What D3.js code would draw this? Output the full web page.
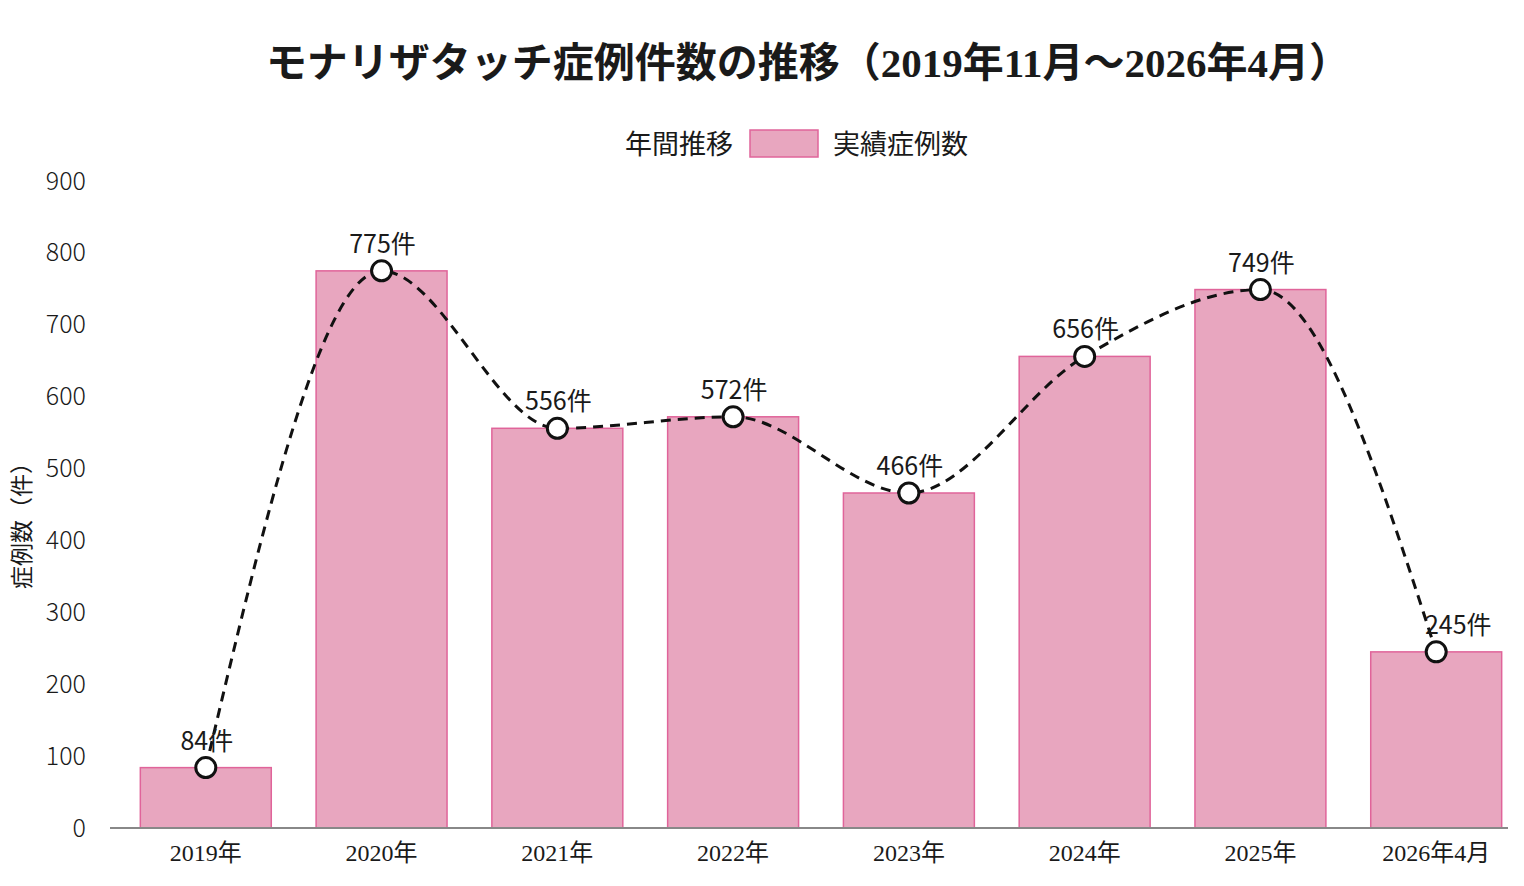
<!DOCTYPE html>
<html>
<head>
<meta charset="utf-8">
<script src="https://cdn.jsdelivr.net/npm/d3@7"></script>
<style>
  body { margin: 0; background: #fff; }
  text { fill: #1a1a1a; }
</style>
</head>
<body>
<div id="chart"></div>
<script>
// data
const categories = ['2019年', '2020年', '2021年', '2022年', '2023年', '2024年', '2025年', '2026年4月'];
const caseCounts = [84, 775, 556, 572, 466, 656, 749, 245];
const yTicks = [0, 100, 200, 300, 400, 500, 600, 700, 800, 900];

const W = 1524, H = 886;
const sans = '"Noto Sans CJK JP", "Noto Sans", sans-serif';
const serif = '"Liberation Serif", "Noto Sans CJK JP", serif';

const svg = d3.select('#chart')
  .append('svg')
  .attr('width', W)
  .attr('height', H);

// scales
const x = d3.scaleBand()
  .domain(categories)
  .range([118, 1524])
  .paddingInner(0.255)
  .paddingOuter(0.127);
const y = d3.scaleLinear()
  .domain([0, 900])
  .range([828, 181]);

// title
svg.append('text')
  .attr('x', 808)
  .attr('y', 77)
  .attr('text-anchor', 'middle')
  .style('font-family', serif)
  .style('font-weight', 'bold')
  .style('font-size', '41px')
  .text('モナリザタッチ症例件数の推移（2019年11月～2026年4月）');

// legend
const leg = svg.append('g');
leg.append('text')
  .attr('x', 733).attr('y', 154)
  .attr('text-anchor', 'end')
  .style('font-family', sans)
  .style('font-size', '27px')
  .text('年間推移');
leg.append('rect')
  .attr('x', 750).attr('y', 130)
  .attr('width', 68).attr('height', 27)
  .attr('fill', '#e8a6bf')
  .attr('stroke', '#e0649a')
  .attr('stroke-width', 1.5);
leg.append('text')
  .attr('x', 833).attr('y', 154)
  .style('font-family', sans)
  .style('font-size', '27px')
  .text('実績症例数');

// y axis (labels only)
const yAxis = svg.append('g')
  .attr('transform', 'translate(86,0)')
  .call(d3.axisLeft(y).tickValues(yTicks).tickSize(0).tickPadding(0));
yAxis.select('.domain').remove();
yAxis.selectAll('text')
  .style('font-family', sans)
  .style('font-size', '25px')
  .style('font-weight', '300')
  .attr('fill', '#1a1a1a');

svg.append('text')
  .attr('transform', 'translate(30,520) rotate(-90)')
  .attr('text-anchor', 'middle')
  .style('font-family', sans)
  .style('font-size', '23px')
  .text('症例数（件）');

// bars
svg.selectAll('rect.bar')
  .data(categories)
  .enter()
  .append('rect')
  .attr('class', 'bar')
  .attr('x', d => x(d))
  .attr('y', (d, i) => y(caseCounts[i]))
  .attr('width', x.bandwidth())
  .attr('height', (d, i) => y(0) - y(caseCounts[i]))
  .attr('fill', '#e8a6bf')
  .attr('stroke', '#e0649a')
  .attr('stroke-width', 1.5);

// x axis
const xAxis = svg.append('g')
  .attr('transform', 'translate(0,828)')
  .call(d3.axisBottom(x).tickSize(0).tickPadding(16));
xAxis.select('.domain')
  .attr('d', 'M110,0H1508')
  .attr('stroke', '#888')
  .attr('stroke-width', 2);
xAxis.selectAll('text')
  .style('font-family', serif)
  .style('font-size', '24px')
  .attr('fill', '#1a1a1a');

// trend line
const cx = d => x(d) + x.bandwidth() / 2;
const line = d3.line()
  .x(d => cx(d))
  .y((d, i) => y(caseCounts[i]))
  .curve(d3.curveMonotoneX);
svg.append('path')
  .datum(categories)
  .attr('d', line)
  .attr('fill', 'none')
  .attr('stroke', '#111')
  .attr('stroke-width', 3)
  .attr('stroke-dasharray', '10,7');

svg.selectAll('circle.pt')
  .data(categories)
  .enter()
  .append('circle')
  .attr('class', 'pt')
  .attr('cx', d => cx(d))
  .attr('cy', (d, i) => y(caseCounts[i]))
  .attr('r', 10)
  .attr('fill', '#fff')
  .attr('stroke', '#111')
  .attr('stroke-width', 3);

// value labels; the last one sits right of the line so it stays clear
const last = categories.length - 1;
svg.selectAll('text.val')
  .data(categories)
  .enter()
  .append('text')
  .attr('class', 'val')
  .attr('x', (d, i) => cx(d) + (i === last ? 22 : 1))
  .attr('y', (d, i) => y(caseCounts[i]) - 18)
  .attr('text-anchor', 'middle')
  .style('font-family', sans)
  .style('font-size', '25px')
  .text((d, i) => caseCounts[i] + '件');
</script>
</body>
</html>
